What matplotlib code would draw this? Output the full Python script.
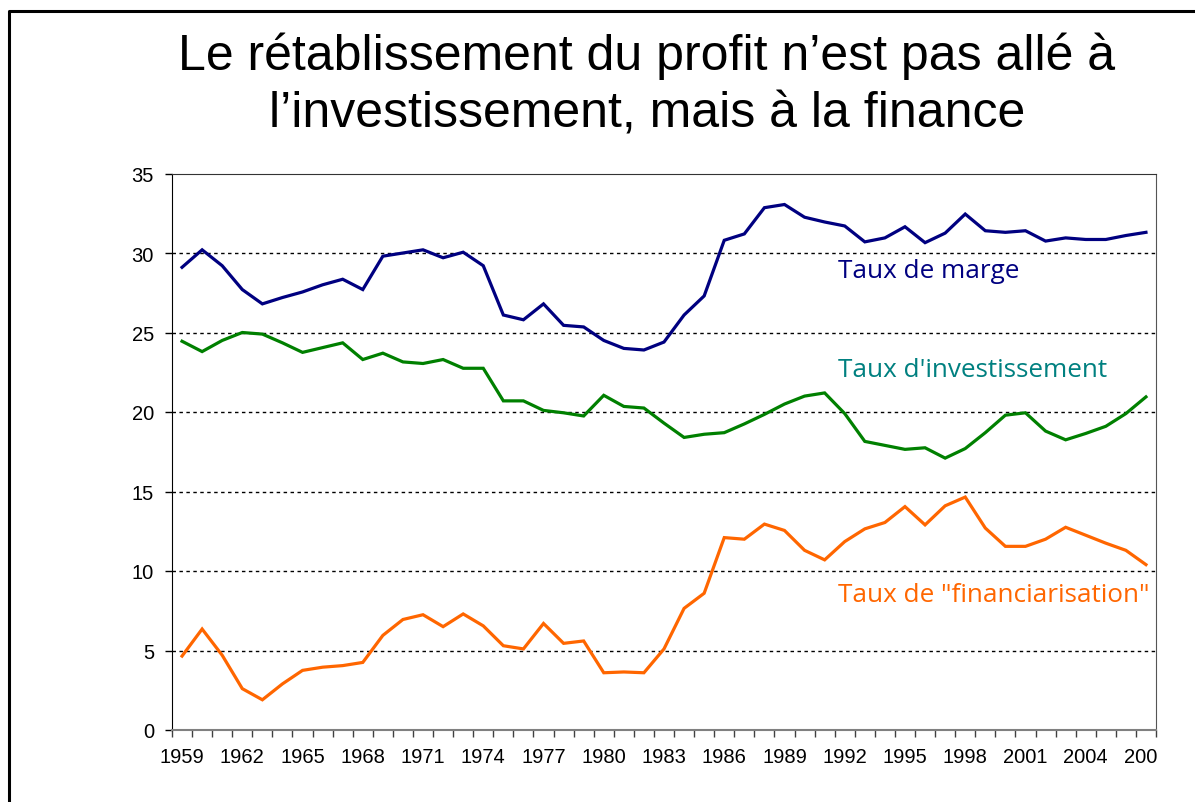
import numpy as np
import matplotlib.pyplot as plt
from matplotlib.lines import Line2D
from matplotlib.patches import Rectangle

# données (en %)
annees = list(range(1959, 2008))

taux_marge = [29.1, 30.2, 29.2, 27.7, 26.8, 27.2, 27.55, 28.0, 28.35, 27.7,
              29.8, 30.0, 30.2, 29.7, 30.05, 29.2, 26.1, 25.8, 26.8, 25.45,
              25.35, 24.5, 24.0, 23.9, 24.4, 26.1, 27.3, 30.8, 31.2, 32.85,
              33.05, 32.25, 31.95, 31.7, 30.7, 30.95, 31.65, 30.65, 31.25, 32.45,
              31.4, 31.3, 31.4, 30.75, 30.95, 30.85, 30.85, 31.1, 31.3]

taux_invest = [24.45, 23.8, 24.5, 25.0, 24.9, 24.35, 23.75, 24.05, 24.35, 23.3,
               23.7, 23.15, 23.05, 23.3, 22.75, 22.75, 20.7, 20.7, 20.1, 19.95,
               19.75, 21.05, 20.35, 20.25, 19.3, 18.4, 18.6, 18.7, 19.25, 19.85,
               20.5, 21.0, 21.2, 19.9, 18.15, 17.9, 17.65, 17.75, 17.1, 17.7,
               18.7, 19.8, 19.95, 18.8, 18.25, 18.65, 19.1, 19.9, 20.95]

taux_fin = [4.65, 6.35, 4.7, 2.6, 1.9, 2.9, 3.75, 3.95, 4.05, 4.25,
            5.95, 6.95, 7.25, 6.5, 7.3, 6.55, 5.3, 5.1, 6.7, 5.45,
            5.6, 3.6, 3.65, 3.6, 5.1, 7.65, 8.6, 12.1, 12.0, 12.95,
            12.55, 11.3, 10.7, 11.85, 12.65, 13.05, 14.05, 12.9, 14.1, 14.65,
            12.7, 11.55, 11.55, 12.0, 12.75, 12.25, 11.75, 11.3, 10.4]

series = [
    ("Taux de marge", taux_marge, '#000080', '#000080', 28.9),
    ("Taux d'investissement", taux_invest, '#008000', '#008080', 22.7),
    ('Taux de "financiarisation"', taux_fin, '#FF6600', '#FF6600', 8.5),
]

plt.rcParams['font.family'] = 'Liberation Sans'

fig = plt.figure(figsize=(11.95, 8.03), dpi=100)
ax = fig.add_axes([172 / 1195, 1 - 731 / 803, (1156 - 172) / 1195, (731 - 174.5) / 803])

for nom, vals, couleur, couleur_txt, y_txt in series:
    ax.plot(annees, vals, color=couleur, lw=2.3, solid_joinstyle='miter')
    ax.text(1991.65, y_txt, nom, color=couleur_txt, fontsize=18.8,
            family=['Open Sans', 'DejaVu Sans'], va='center', ha='left', clip_on=False)

ax.set_xlim(1958.5, 2007.5)
ax.set_ylim(0, 35)

# grille pointillée
for y in range(5, 35, 5):
    ax.axhline(y, color='black', lw=1, ls=(0, (2.5, 2.5)), zorder=0)

ax.set_yticks(range(0, 36, 5))
ax.tick_params(axis='y', direction='out', length=5, width=1, pad=8, labelsize=14.5)

# axe des catégories : graduations entre les années, étiquettes tous les 3 ans
ax.set_xticks(np.arange(1958.5, 2008, 1))
ax.set_xticklabels([])
ax.tick_params(axis='x', which='major', direction='out', length=5, width=1, color='#404040')
lab_annees = annees[::3]
ax.set_xticks(lab_annees, minor=True)
ax.set_xticklabels([str(a) for a in lab_annees], minor=True)
ax.tick_params(axis='x', which='minor', length=0, pad=12.5, labelsize=14.5)

# la dernière étiquette (2007) est coupée au bord du graphique
fig.canvas.draw()
for lbl in ax.get_xticklabels(minor=True):
    lbl.set_clip_path(Rectangle((0, 0), 1158 / 1195, 1, transform=fig.transFigure))
    lbl.set_clip_on(True)

ax.spines['left'].set_color('black')
ax.spines['bottom'].set_color('#808080')
ax.spines['bottom'].set_linewidth(1.5)
ax.spines['top'].set_color('#333333')
ax.spines['right'].set_color('#555555')

# titre
fig.text(647 / 1195, 1 - 70 / 803, "Le rétablissement du profit n’est pas allé à",
         ha='center', va='baseline', fontsize=36)
fig.text(647 / 1195, 1 - 128 / 803, "l’investissement, mais à la finance",
         ha='center', va='baseline', fontsize=36)

# cadre de la diapositive
fig.add_artist(Line2D([8.5 / 1195, 8.5 / 1195, 1.0], [0, 1 - 11.5 / 803, 1 - 11.5 / 803],
                      transform=fig.transFigure, color='black', lw=2.2))

fig.savefig('out.png', dpi=100)
